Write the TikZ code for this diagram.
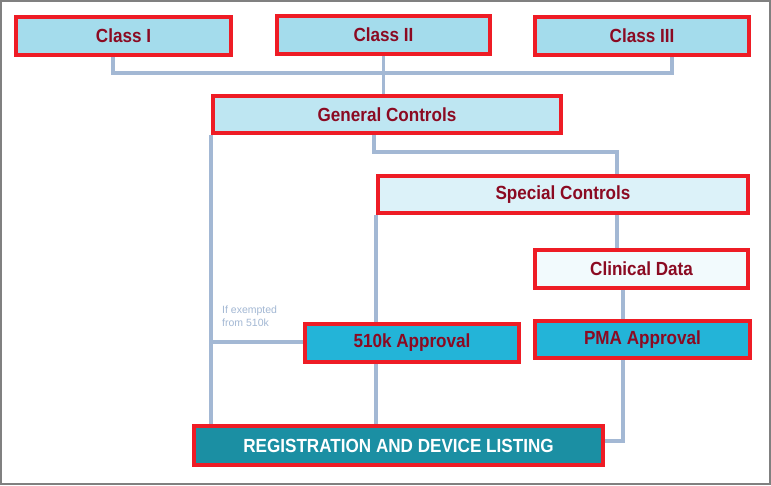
\documentclass[tikz,border=0pt]{standalone}
\usepackage{fontspec}
\setmainfont{Liberation Sans}
\begin{document}
\begin{tikzpicture}[x=1pt,y=-1pt,
  box/.style={draw=boxred,line width=4pt,font=\bfseries\fontsize{19}{22}\selectfont\addfontfeature{FakeStretch=0.9},text=txtred,inner sep=0pt,anchor=north west},
  con/.style={draw=lineblue,line width=3.5pt}]
\definecolor{boxred}{HTML}{EE1C25}
\definecolor{txtred}{HTML}{8B0A22}
\definecolor{lineblue}{HTML}{A3B8D4}
\definecolor{f1}{HTML}{A4DCEC}
\definecolor{f2}{HTML}{BEE6F2}
\definecolor{f3}{HTML}{DCF2F9}
\definecolor{f4}{HTML}{F2FAFD}
\definecolor{f5}{HTML}{23B4D8}
\definecolor{f6}{HTML}{1B8FA3}
\path[use as bounding box,draw=gray,line width=2pt,fill=white] (1,1) rectangle (770,484);
\coordinate (j1) at (113,73); \coordinate (j3) at (672,73);
\coordinate (k1) at (374,152); \coordinate (k2) at (617,152);
\coordinate (m) at (211,342); \coordinate (p) at (623,441);
\node[box,fill=f1,minimum width=215pt,minimum height=38pt] (c1) at (14,15) {Class I};
\node[box,fill=f1,minimum width=213pt,minimum height=38pt] (c2) at (275,14) {Class II};
\node[box,fill=f1,minimum width=214pt,minimum height=38pt] (c3) at (533,15) {Class III};
\node[box,fill=f2,minimum width=348pt,minimum height=37pt] (gc) at (211,94) {General Controls};
\node[box,fill=f3,minimum width=370pt,minimum height=37pt] (sc) at (376,174) {Special Controls};
\node[box,fill=f4,minimum width=213pt,minimum height=38pt] (cd) at (533,248) {Clinical Data};
\node[box,fill=f5,minimum width=215pt,minimum height=37pt] (pma) at (533,319) {PMA Approval};
\node[box,fill=f5,minimum width=214pt,minimum height=38pt] (k510) at (303,322) {510k Approval};
\node[box,fill=f6,text=white,minimum width=409pt,minimum height=39pt] (reg) at (192,424) {REGISTRATION AND DEVICE LISTING};
\draw[con] (c1.south -| j1) -- (j1) -- (j3) -- (c3.south -| j3);
\draw[con] (c2.south) -- (gc.north -| c2.south);
\draw[con] (gc.south -| k1) -- (k1) -- (k2) -- (sc.north -| k2);
\draw[con] (gc.south -| m) -- (reg.north -| m);
\draw[con] (m) -- (k510.west |- m);
\draw[con] (sc.south -| 376,0) -- (k510.north -| 376,0);
\draw[con] (k510.south -| 376,0) -- (reg.north -| 376,0);
\draw[con] (sc.south -| k2) -- (cd.north -| k2);
\draw[con] (cd.south -| p) -- (pma.north -| p);
\draw[con] (pma.south -| p) -- (p) -- (reg.east |- p);
\node[font=\fontsize{10.5}{13}\selectfont,text=lineblue,align=left,anchor=north west,inner sep=0pt] (ex) at (222,306) {If exempted\\from 510k};
\end{tikzpicture}
\end{document}
